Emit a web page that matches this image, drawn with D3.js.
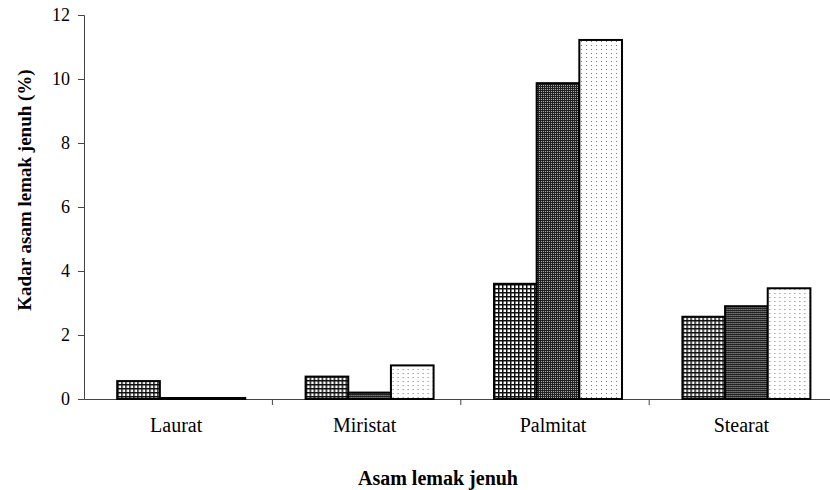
<!DOCTYPE html>
<html>
<head>
<meta charset="utf-8">
<script src="https://cdn.jsdelivr.net/npm/d3@7"></script>
<style>
  body { margin: 0; background: #fff; }
  svg text { font-family: "Liberation Serif", "Times New Roman", serif; fill: #000; }
</style>
</head>
<body>
<div id="plot"></div>
<script>
// data
const categories = ["Laurat", "Miristat", "Palmitat", "Stearat"];
const series1 = [0.56, 0.70, 3.60, 2.57];   // grid pattern
const series2 = [0.0, 0.20, 9.87, 2.90];    // dark dots
const series3 = [0.0, 1.05, 11.22, 3.46];   // light dots
const yTicks = [0, 2, 4, 6, 8, 10, 12];

window.addEventListener("load", main);

function main(){
  const width = 830, height = 490;
  const left = 84, top = 15, bottom = 399;
  const bandStep = 188.4;

  const svg = d3.select("#plot").append("svg")
      .attr("width", width).attr("height", height);

  // fill patterns
  const defs = svg.append("defs");
  const p1 = defs.append("pattern").attr("id", "pGrid")
      .attr("patternUnits", "userSpaceOnUse").attr("width", 4).attr("height", 4);
  p1.append("rect").attr("width", 4).attr("height", 4).attr("fill", "#111");
  p1.append("rect").attr("x", 1.5).attr("y", 1.5).attr("width", 2.5).attr("height", 2.5).attr("fill", "#fff");

  const p2 = defs.append("pattern").attr("id", "pDark")
      .attr("patternUnits", "userSpaceOnUse").attr("width", 2).attr("height", 2);
  p2.append("rect").attr("width", 2).attr("height", 2).attr("fill", "#222");
  p2.append("rect").attr("x", 1).attr("y", 1).attr("width", 1).attr("height", 1).attr("fill", "#aaa");

  const p3 = defs.append("pattern").attr("id", "pLight")
      .attr("patternUnits", "userSpaceOnUse").attr("width", 5).attr("height", 4);
  p3.append("rect").attr("width", 5).attr("height", 4).attr("fill", "#fff");
  p3.append("rect").attr("x", 2).attr("y", 1).attr("width", 1).attr("height", 1).attr("fill", "#777");

  const x = d3.scaleBand().domain(categories)
      .range([left, left + bandStep * categories.length]).paddingInner(0).paddingOuter(0);
  const y = d3.scaleLinear().domain([0, 12]).range([bottom, top]);

  const seriesKeys = ["s1", "s2", "s3"];
  const fills = {s1: "url(#pGrid)", s2: "url(#pDark)", s3: "url(#pLight)"};
  const rows = categories.map((c, i) => ({cat: c, s1: series1[i], s2: series2[i], s3: series3[i]}));

  const groupWidth = 128;
  const xs = d3.scaleBand().domain(seriesKeys).range([0, groupWidth]).padding(0);

  // axes
  const yAxis = svg.append("g").attr("transform", `translate(${left},0)`)
      .call(d3.axisLeft(y).tickValues(yTicks).tickSize(6).tickPadding(8));
  yAxis.selectAll("text").style("font-size", "18px");

  const xAxis = svg.append("g").attr("transform", `translate(0,${bottom})`)
      .call(d3.axisBottom(x).tickSize(0).tickPadding(19));
  xAxis.selectAll("text").style("font-size", "20px").attr("dx", "-2");

  // category boundary ticks
  svg.append("g").selectAll("line")
    .data(categories.slice(1))
    .join("line")
      .attr("x1", d => x(d)).attr("x2", d => x(d))
      .attr("y1", bottom).attr("y2", bottom + 6)
      .attr("stroke", "#444");

  svg.selectAll(".domain").attr("stroke", "#444");
  svg.selectAll(".tick line").attr("stroke", "#444");

  // bars (zero values still show as a flat outlined bar on the baseline)
  svg.append("g").selectAll("g")
    .data(rows)
    .join("g")
      .attr("transform", d => `translate(${x(d.cat) + (x.bandwidth() - groupWidth) / 2 + 3},0)`)
    .selectAll("rect")
    .data(d => seriesKeys.map(k => ({key: k, value: d[k]})))
    .join("rect")
      .attr("x", d => xs(d.key))
      .attr("width", xs.bandwidth())
      .attr("y", d => Math.min(y(d.value), bottom - 1))
      .attr("height", d => Math.max(bottom - y(d.value), 1))
      .attr("fill", d => fills[d.key])
      .attr("stroke", "#000")
      .attr("stroke-width", 2);

  // titles
  svg.append("text")
      .attr("transform", "translate(31,190) rotate(-90)")
      .attr("text-anchor", "middle")
      .style("font-size", "19px").style("font-weight", "bold")
      .text("Kadar asam lemak jenuh (%)");

  svg.append("text")
      .attr("x", 438).attr("y", 485)
      .attr("text-anchor", "middle")
      .style("font-size", "20px").style("font-weight", "bold")
      .text("Asam lemak jenuh");
}
</script>
</body>
</html>
